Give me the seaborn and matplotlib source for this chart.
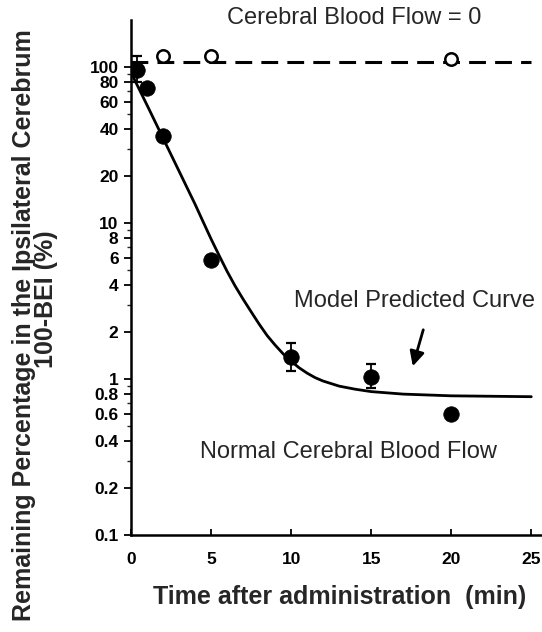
import numpy as np
import matplotlib
matplotlib.use("Agg")
import matplotlib.pyplot as plt
import seaborn as sns
from matplotlib.ticker import FixedLocator, FixedFormatter, NullFormatter

# ---- data ----
time_normal = [0.35, 1, 2, 5, 10, 15, 20]
pct_normal = [95, 73, 36, 5.8, 1.39, 1.03, 0.6]

err_time = [0.35, 10, 15]
err_center = [95, 1.39, 1.03]
err_lower = [80, 1.13, 0.87]
err_upper = [117, 1.7, 1.25]

time_zero_flow = [2, 5, 20]
pct_zero_flow = [118, 118, 112]

ref_time = [0, 25]
ref_pct = [107, 107]

model_time = [0, 1, 2, 3, 4, 4.5, 5, 5.5, 6, 6.5, 7, 7.5, 8, 8.5, 9, 9.5, 10,
              10.5, 11, 11.5, 12, 13, 14, 15, 17, 20, 25]
model_pct = [92, 57, 35, 21.5, 13.2, 10.2, 7.9, 6.2, 4.9, 3.95, 3.25, 2.7,
             2.25, 1.9, 1.65, 1.45, 1.3, 1.18, 1.09, 1.02, 0.97, 0.9, 0.86,
             0.83, 0.8, 0.78, 0.77]

ytick_vals = [0.1, 0.2, 0.4, 0.6, 0.8, 1, 2, 4, 6, 8, 10, 20, 40, 60, 80, 100]
ytick_labels = ["0.1", "0.2", "0.4", "0.6", "0.8", "1", "2", "4", "6", "8",
                "10", "20", "40", "60", "80", "100"]
yminor_vals = [0.3, 0.5, 0.7, 0.9, 3, 5, 7, 9, 30, 50, 70, 90]
xtick_vals = [0, 5, 10, 15, 20, 25]

# ---- style ----
sns.set_style("ticks")
plt.rcParams['font.family'] = ['Liberation Sans', 'DejaVu Sans']

fig = plt.figure(figsize=(5.42, 6.32), dpi=100)
ax = fig.add_axes([131 / 542, 1 - 535 / 632, 0.998 - 131 / 542, (535 - 20) / 632])

ax.set_yscale('log')
ax.set_xlim(0, 25.6)
ax.set_ylim(0.1, 200)

# reference dashed line (CBF = 0)
ax.plot(ref_time, ref_pct, color='black', lw=2.2, linestyle=(0, (5.5, 3)), zorder=2)

# model curve
sns.lineplot(x=model_time, y=model_pct, ax=ax, color='black', lw=2.0, zorder=2)

# error bars
err_center_a = np.array(err_center)
ax.errorbar(err_time, err_center,
            yerr=[err_center_a - np.array(err_lower), np.array(err_upper) - err_center_a],
            fmt='none', ecolor='black', elinewidth=1.3, capsize=3.5, capthick=1.6, zorder=3)

# data points
sns.scatterplot(x=time_normal, y=pct_normal, ax=ax, color='black', s=125,
                edgecolor='black', linewidth=0.5, zorder=4)
sns.scatterplot(x=time_zero_flow, y=pct_zero_flow, ax=ax, facecolor='white',
                edgecolor='black', linewidth=1.8, s=80, zorder=4, clip_on=False)

# axes styling
for side in ['top', 'right']:
    ax.spines[side].set_visible(False)
for side in ['left', 'bottom']:
    ax.spines[side].set_linewidth(1.8)
    ax.spines[side].set_color('black')

ax.yaxis.set_major_locator(FixedLocator(ytick_vals))
ax.yaxis.set_major_formatter(FixedFormatter(ytick_labels))
ax.yaxis.set_minor_locator(FixedLocator(yminor_vals))
ax.yaxis.set_minor_formatter(NullFormatter())
ax.set_xticks(xtick_vals)
ax.set_xticklabels([str(v) for v in xtick_vals])

ax.tick_params(axis='y', which='major', direction='out', length=5, width=1.3,
               pad=4, labelsize=12.5, colors='black')
ax.tick_params(axis='y', which='minor', direction='out', length=3, width=1.0)
ax.tick_params(axis='x', which='major', direction='in', length=4, width=1.3,
               pad=12, labelsize=12.5, colors='black')
for lab in ax.get_xticklabels() + ax.get_yticklabels():
    lab.set_fontweight('bold')

ax.set_xlabel("")
ax.set_ylabel("")

# annotations
ax.text(17.7, 3.14, "Model Predicted Curve", ha='center', va='center', fontsize=17)
ax.text(13.56, 0.34, "Normal Cerebral Blood Flow", ha='center', va='center', fontsize=17)
ax.annotate("", xy=(17.55, 1.16), xytext=(18.3, 2.15),
            arrowprops=dict(arrowstyle='-|>', color='black', lw=2.0,
                            mutation_scale=22))
fig.text(354 / 542, 1 - 18 / 632, "Cerebral Blood Flow = 0", ha='center', va='center',
         fontsize=17)

# axis labels
fig.text(340 / 542, 1 - 597 / 632, "Time after administration  (min)", ha='center',
         va='center', fontsize=18, fontweight='bold')
fig.text(24 / 542, 1 - 325 / 632, "Remaining Percentage in the Ipsilateral Cerebrum",
         rotation=90, ha='center', va='center', fontsize=18, fontweight='bold')
fig.text(46 / 542, 1 - 299 / 632, "100-BEI (%)", rotation=90, ha='center',
         va='center', fontsize=18, fontweight='bold')

fig.savefig("out.png", dpi=100)
